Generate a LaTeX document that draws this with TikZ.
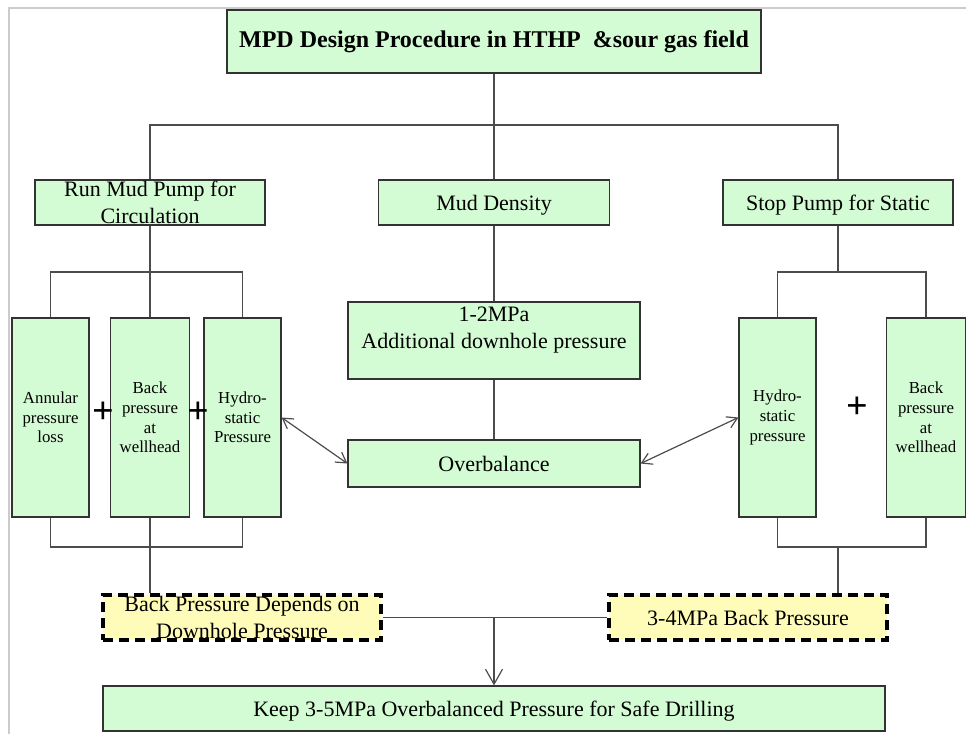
\documentclass[tikz,border=0pt]{standalone}
\usepackage{fontspec}
\setmainfont{Liberation Serif}
\usetikzlibrary{arrows.meta}
\definecolor{boxgreen}{RGB}{212,252,212}
\definecolor{boxyellow}{RGB}{255,252,185}
\newcommand\mpdfont{\fontsize{22}{27}\selectfont}
\newcommand\mpdsmall{\fontsize{16.8}{19.6}\selectfont}
\begin{document}
\begin{tikzpicture}[x=1pt,y=-1pt,
  box/.style={draw=black!80,line width=1.2pt,fill=boxgreen,inner sep=0pt,align=center,font=\mpdfont},
  tall/.style={box,minimum width=77pt,minimum height=199pt,font=\mpdsmall},
  note/.style={draw=black,line width=4.5pt,dash pattern=on 10pt off 6pt,fill=boxyellow,inner sep=0pt,
    align=center,font=\mpdfont,minimum width=278pt,minimum height=45pt},
  link/.style={draw=black!70,line width=1.2pt},
  plus/.style={inner sep=0pt,font=\fontsize{38}{38}\selectfont\bfseries},
  >={Straight Barb[length=10pt,width=12pt]}]
\useasboundingbox (0,0) rectangle (966,734);
\draw[black!20,line width=2pt] (9,734) -- (9,8) -- (966,8);
\node[box,minimum width=534pt,minimum height=63pt,font=\fontsize{24}{28}\selectfont\bfseries] (title) at (494,41.5) {MPD Design Procedure in HTHP~~\&sour gas field};
\node[box,minimum width=230pt,minimum height=45pt] (run) at (150,202.5) {Run Mud Pump for\\Circulation};
\node[box,minimum width=231pt,minimum height=45pt,text depth=0pt] (dens) at (494,202.5) {Mud Density};
\node[box,minimum width=230pt,minimum height=45pt,text depth=0pt] (stop) at (838,202.5) {Stop Pump for Static};
\node[tall] (annl) at (50.5,417.5) {Annular\\pressure\\loss};
\node[tall,minimum width=79pt] (backl) at (150,417.5) {Back\\pressure\\at\\wellhead};
\node[tall] (hydl) at (242.5,417.5) {Hydro-\\static\\Pressure};
\node[box,minimum width=292pt,minimum height=77pt,text depth=26pt] (add) at (494,340.5) {1-2MPa\\Additional downhole pressure};
\node[box,minimum width=292pt,minimum height=47pt] (over) at (494,463.5) {Overbalance};
\node[tall] (hydr) at (777.5,417.5) {Hydro-\\static\\pressure};
\node[tall,minimum width=79pt] (backr) at (926,417.5) {Back\\pressure\\at\\wellhead};
\node[note] (dl) at (242,617.5) {Back Pressure Depends on\\Downhole Pressure};
\node[note] (dr) at (748,617.5) {3-4MPa Back Pressure};
\node[box,minimum width=782pt,minimum height=45pt,text depth=0pt] (keep) at (494,708.5) {Keep 3-5MPa Overbalanced Pressure for Safe Drilling};
\node[plus] (plusa) at (103,413) {+};
\node[plus] (plusb) at (198,413) {+};
\node[plus] (plusc) at (857,408) {+};
\coordinate (top) at (494,125);
\coordinate (lt) at (150,272);
\coordinate (lb) at (150,547);
\coordinate (rt) at (838,272);
\coordinate (rb) at (838,547);
\coordinate (mid) at (dl -| keep);
\draw[link] (title) -- (dens);
\draw[link] (run.north) |- (top) -| (stop.north);
\draw[link] (run) -- (backl);
\draw[link] (annl.north) |- (lt) -| (hydl.north);
\draw[link] (annl.south) |- (lb) -| (hydl.south);
\draw[link] (backl.south) -- (backl.south |- dl.north);
\draw[link] (stop) -- (rt);
\draw[link] (hydr.north) |- (rt) -| (backr.north);
\draw[link] (hydr.south) |- (rb) -| (backr.south);
\draw[link] (rb) -- (rb |- dr.north);
\draw[link] (dens) -- (add);
\draw[link] (add) -- (over);
\draw[link,<->] (hydl.east) -- (over.west);
\draw[link,<->] (over.east) -- (hydr.west);
\draw[link] (dl) -- (dr);
\draw[link,->,>={Straight Barb[length=15pt,width=17pt]}] (mid) -- (keep);
\end{tikzpicture}
\end{document}
